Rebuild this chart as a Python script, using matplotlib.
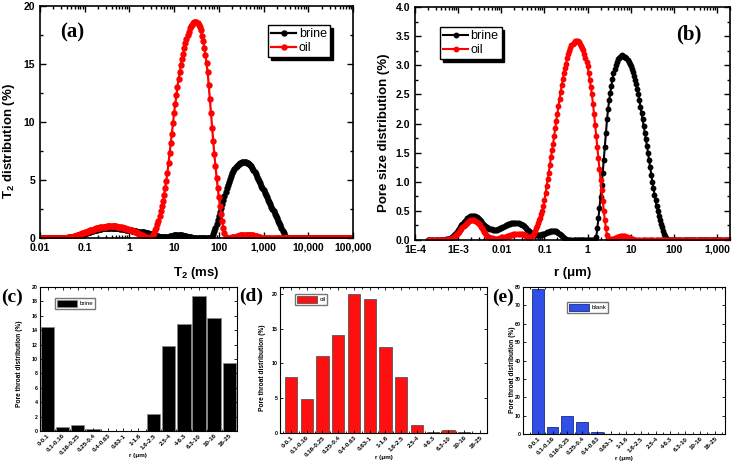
import numpy as np
import matplotlib
matplotlib.use('Agg')
import matplotlib.pyplot as plt
from matplotlib.ticker import LogLocator, MultipleLocator, NullFormatter

plt.rcParams['font.family'] = ['Liberation Sans', 'DejaVu Sans']
plt.rcParams['font.weight'] = 'bold'
plt.rcParams['axes.labelweight'] = 'bold'
plt.rcParams['mathtext.fontset'] = 'custom'
plt.rcParams['mathtext.rm'] = 'Liberation Sans:bold'
plt.rcParams['mathtext.it'] = 'Liberation Sans:bold'
plt.rcParams['mathtext.bf'] = 'Liberation Sans:bold'

# (a) T2 spectra, one value per 0.025 decade from 0.01 ms to 100,000 ms
t2_brine = [
    0, 0, 0, 0, 0, 0, 0, 0, 0, 0,
    0, 0, 0, 0, 0, 0, 0, 0, 0, 0,
    0, 0, 0.01, 0.02, 0.03, 0.04, 0.05, 0.07, 0.08, 0.1,
    0.12, 0.14, 0.17, 0.19, 0.22, 0.25, 0.28, 0.31, 0.34, 0.37,
    0.4, 0.44, 0.47, 0.5, 0.53, 0.56, 0.59, 0.62, 0.65, 0.68,
    0.7, 0.73, 0.75, 0.77, 0.79, 0.81, 0.83, 0.84, 0.85, 0.86,
    0.87, 0.88, 0.88, 0.88, 0.88, 0.88, 0.87, 0.87, 0.86, 0.85,
    0.84, 0.83, 0.82, 0.8, 0.79, 0.77, 0.75, 0.73, 0.71, 0.69,
    0.67, 0.65, 0.63, 0.62, 0.6, 0.58, 0.57, 0.56, 0.55, 0.53,
    0.52, 0.51, 0.5, 0.48, 0.46, 0.44, 0.42, 0.39, 0.35, 0.32,
    0.3, 0.27, 0.25, 0.22, 0.2, 0.17, 0.15, 0.13, 0.11, 0.1,
    0.09, 0.08, 0.08, 0.09, 0.1, 0.12, 0.14, 0.16, 0.18, 0.2,
    0.22, 0.23, 0.24, 0.25, 0.25, 0.25, 0.24, 0.23, 0.21, 0.19,
    0.16, 0.14, 0.11, 0.09, 0.07, 0.05, 0.04, 0.03, 0.02, 0.01,
    0.01, 0, 0, 0, 0, 0, 0, 0, 0, 0,
    0, 0, 0, 0, 0.1, 0.35, 0.6, 0.9, 1.2, 1.55,
    1.9, 2.25, 2.6, 2.95, 3.3, 3.65, 4.0, 4.3, 4.6, 4.85,
    5.1, 5.35, 5.6, 5.78, 5.95, 6.08, 6.2, 6.3, 6.4, 6.45,
    6.5, 6.53, 6.55, 6.56, 6.55, 6.5, 6.45, 6.38, 6.3, 6.18,
    6.05, 5.88, 5.7, 5.5, 5.3, 5.1, 4.9, 4.7, 4.5, 4.3,
    4.1, 3.9, 3.7, 3.5, 3.3, 3.1, 2.9, 2.7, 2.5, 2.3,
    2.1, 1.9, 1.7, 1.5, 1.3, 1.08, 0.85, 0.62, 0.4, 0.2,
    0.05, 0, 0, 0, 0, 0, 0, 0, 0, 0,
    0, 0, 0, 0, 0, 0, 0, 0, 0, 0,
    0, 0, 0, 0, 0, 0, 0, 0, 0, 0,
    0, 0, 0, 0, 0, 0, 0, 0, 0, 0,
    0, 0, 0, 0, 0, 0, 0, 0, 0, 0,
    0, 0, 0, 0, 0, 0, 0, 0, 0, 0,
    0,
]
t2_oil = [
    0, 0, 0, 0, 0, 0, 0, 0, 0, 0,
    0, 0, 0, 0, 0, 0, 0, 0, 0, 0,
    0, 0.01, 0.02, 0.03, 0.04, 0.06, 0.07, 0.09, 0.1, 0.12,
    0.15, 0.17, 0.2, 0.23, 0.26, 0.3, 0.33, 0.37, 0.4, 0.44,
    0.48, 0.52, 0.56, 0.59, 0.63, 0.66, 0.7, 0.73, 0.77, 0.8,
    0.83, 0.85, 0.88, 0.9, 0.92, 0.94, 0.96, 0.97, 0.98, 0.99,
    1.0, 1.01, 1.01, 1.02, 1.02, 1.02, 1.01, 1.01, 1.0, 0.99,
    0.98, 0.96, 0.95, 0.93, 0.9, 0.88, 0.85, 0.82, 0.79, 0.76,
    0.72, 0.68, 0.65, 0.61, 0.57, 0.53, 0.49, 0.44, 0.4, 0.35,
    0.3, 0.25, 0.2, 0.15, 0.1, 0.06, 0.02, 0.01, 0.02, 0.06,
    0.15, 0.28, 0.45, 0.66, 0.9, 1.18, 1.5, 1.88, 2.3, 2.74,
    3.2, 3.72, 4.3, 4.93, 5.6, 6.45, 7.3, 8.15, 9.0, 9.9,
    10.8, 11.55, 12.3, 13.0, 13.7, 14.3, 14.9, 15.4, 15.9, 16.35,
    16.8, 17.15, 17.5, 17.8, 18.1, 18.25, 18.4, 18.5, 18.6, 18.62,
    18.6, 18.5, 18.4, 18.15, 17.9, 17.45, 17.0, 16.4, 15.8, 15.05,
    14.3, 13.15, 12.0, 10.75, 9.5, 8.35, 7.2, 6.2, 5.2, 4.35,
    3.5, 2.8, 2.1, 1.5, 0.9, 0.45, 0.1, 0, 0, 0.01,
    0.02, 0.03, 0.05, 0.07, 0.1, 0.12, 0.15, 0.18, 0.2, 0.23,
    0.25, 0.27, 0.28, 0.29, 0.3, 0.3, 0.3, 0.29, 0.28, 0.26,
    0.24, 0.22, 0.2, 0.17, 0.14, 0.11, 0.08, 0.06, 0.04, 0.03,
    0.02, 0.01, 0, 0, 0, 0, 0, 0, 0, 0,
    0, 0, 0, 0, 0, 0, 0, 0, 0, 0,
    0, 0, 0, 0, 0, 0, 0, 0, 0, 0,
    0, 0, 0, 0, 0, 0, 0, 0, 0, 0,
    0, 0, 0, 0, 0, 0, 0, 0, 0, 0,
    0, 0, 0, 0, 0, 0, 0, 0, 0, 0,
    0, 0, 0, 0, 0, 0, 0, 0, 0, 0,
    0, 0, 0, 0, 0, 0, 0, 0, 0, 0,
    0,
]
t2_ticks = [0.01, 0.1, 1, 10, 100, 1000, 10000, 100000]
t2_labels = ['0.01', '0.1', '1', '10', '100', '1,000', '10,000', '100,000']

# (b) pore size distribution, one value per 0.025 decade from 2E-4 um to 2,000 um
r_brine = [
    0, 0, 0, 0, 0, 0, 0, 0, 0, 0,
    0, 0, 0, 0, 0, 0, 0.005, 0.01, 0.015, 0.02,
    0.03, 0.04, 0.05, 0.065, 0.08, 0.1, 0.12, 0.145, 0.17, 0.195,
    0.22, 0.25, 0.28, 0.305, 0.33, 0.35, 0.37, 0.385, 0.4, 0.41,
    0.42, 0.42, 0.42, 0.42, 0.41, 0.395, 0.38, 0.36, 0.34, 0.32,
    0.3, 0.28, 0.26, 0.245, 0.23, 0.215, 0.2, 0.195, 0.19, 0.185,
    0.18, 0.18, 0.175, 0.175, 0.18, 0.185, 0.19, 0.2, 0.21, 0.22,
    0.23, 0.24, 0.25, 0.26, 0.27, 0.275, 0.28, 0.285, 0.29, 0.29,
    0.29, 0.29, 0.29, 0.29, 0.285, 0.28, 0.27, 0.26, 0.25, 0.24,
    0.22, 0.2, 0.18, 0.165, 0.15, 0.135, 0.12, 0.11, 0.1, 0.095,
    0.09, 0.09, 0.09, 0.09, 0.09, 0.09, 0.1, 0.105, 0.11, 0.12,
    0.13, 0.14, 0.145, 0.15, 0.155, 0.16, 0.16, 0.16, 0.155, 0.15,
    0.14, 0.125, 0.11, 0.09, 0.07, 0.05, 0.03, 0.02, 0.01, 0.005,
    0, 0, 0, 0, 0, 0, 0, 0, 0, 0,
    0, 0, 0, 0, 0, 0, 0, 0, 0, 0,
    0, 0, 0, 0, 0, 0, 0.05, 0.2, 0.37, 0.55,
    0.74, 0.94, 1.15, 1.38, 1.6, 1.84, 2.07, 2.25, 2.4, 2.53,
    2.65, 2.76, 2.86, 2.93, 3.0, 3.05, 3.1, 3.13, 3.15, 3.16,
    3.17, 3.16, 3.15, 3.14, 3.12, 3.09, 3.06, 3.02, 2.98, 2.93,
    2.88, 2.82, 2.75, 2.68, 2.6, 2.5, 2.4, 2.29, 2.18, 2.07,
    1.95, 1.84, 1.73, 1.62, 1.5, 1.37, 1.25, 1.12, 1.0, 0.89,
    0.78, 0.68, 0.58, 0.5, 0.42, 0.35, 0.28, 0.22, 0.16, 0.11,
    0.07, 0.04, 0.01, 0, 0, 0, 0, 0, 0, 0,
    0, 0, 0, 0, 0, 0, 0, 0, 0, 0,
    0, 0, 0, 0, 0, 0, 0, 0, 0, 0,
    0, 0, 0, 0, 0, 0, 0, 0, 0, 0,
    0, 0, 0, 0, 0, 0, 0, 0, 0, 0,
    0, 0, 0, 0, 0, 0, 0, 0, 0, 0,
    0,
]
r_oil = [
    0, 0, 0, 0, 0, 0, 0, 0, 0, 0,
    0, 0, 0, 0, 0, 0, 0, 0, 0.005, 0.01,
    0.01, 0.02, 0.03, 0.04, 0.05, 0.065, 0.08, 0.1, 0.12, 0.145,
    0.17, 0.195, 0.22, 0.24, 0.26, 0.28, 0.3, 0.315, 0.33, 0.335,
    0.34, 0.34, 0.34, 0.34, 0.33, 0.315, 0.3, 0.275, 0.25, 0.225,
    0.2, 0.17, 0.14, 0.115, 0.09, 0.075, 0.06, 0.05, 0.04, 0.035,
    0.03, 0.025, 0.02, 0.02, 0.02, 0.025, 0.03, 0.035, 0.04, 0.045,
    0.05, 0.055, 0.06, 0.065, 0.07, 0.075, 0.08, 0.085, 0.09, 0.095,
    0.1, 0.1, 0.105, 0.105, 0.11, 0.11, 0.11, 0.105, 0.1, 0.09,
    0.08, 0.07, 0.06, 0.055, 0.05, 0.055, 0.07, 0.09, 0.12, 0.16,
    0.2, 0.245, 0.29, 0.335, 0.38, 0.44, 0.5, 0.58, 0.68, 0.8,
    0.92, 1.04, 1.15, 1.29, 1.42, 1.54, 1.65, 1.79, 1.92, 2.05,
    2.17, 2.3, 2.42, 2.54, 2.66, 2.76, 2.86, 2.95, 3.03, 3.12,
    3.2, 3.25, 3.3, 3.34, 3.37, 3.39, 3.41, 3.42, 3.42, 3.42,
    3.4, 3.37, 3.33, 3.3, 3.26, 3.19, 3.12, 3.05, 2.98, 2.87,
    2.75, 2.63, 2.5, 2.33, 2.16, 1.97, 1.78, 1.59, 1.4, 1.22,
    1.03, 0.85, 0.67, 0.5, 0.34, 0.2, 0.08, 0.03, 0, 0,
    0.01, 0.01, 0.02, 0.03, 0.04, 0.05, 0.05, 0.06, 0.07, 0.07,
    0.07, 0.07, 0.07, 0.07, 0.06, 0.05, 0.04, 0.03, 0.02, 0.01,
    0.01, 0, 0, 0, 0, 0, 0, 0, 0, 0,
    0, 0, 0, 0, 0, 0, 0, 0, 0, 0,
    0, 0, 0, 0, 0, 0, 0, 0, 0, 0,
    0, 0, 0, 0, 0, 0, 0, 0, 0, 0,
    0, 0, 0, 0, 0, 0, 0, 0, 0, 0,
    0, 0, 0, 0, 0, 0, 0, 0, 0, 0,
    0, 0, 0, 0, 0, 0, 0, 0, 0, 0,
    0, 0, 0, 0, 0, 0, 0, 0, 0, 0,
    0, 0, 0, 0, 0, 0, 0, 0, 0, 0,
    0,
]
r_ticks = [1e-4, 1e-3, 0.01, 0.1, 1, 10, 100, 1000]
r_labels = ['1E-4', '1E-3', '0.01', '0.1', '1', '10', '100', '1,000']

# (c)-(e) pore throat distribution per radius bin
pore_bins = ['0-0.1', '0.1-0.16', '0.16-0.25', '0.25-0.4', '0.4-0.63', '0.63-1',
             '1-1.6', '1.6-2.5', '2.5-4', '4-6.3', '6.3-10', '10-16', '16-25']
brine_bars = [14.4, 0.5, 0.9, 0.3, 0, 0, 0, 2.4, 11.8, 14.8, 18.7, 15.7, 9.4]
oil_bars = [8.0, 4.9, 11.1, 14.1, 20.0, 19.3, 12.3, 8.1, 1.2, 0.1, 0.45, 0.1, 0]
blank_bars = [78.8, 3.6, 10.0, 6.7, 0.9, 0, 0, 0, 0, 0, 0, 0, 0]

assert len(t2_brine) == len(t2_oil) == 281
assert len(r_brine) == len(r_oil) == 281
t2_ms = np.logspace(-2, 5, len(t2_brine))
r_um = np.logspace(-3.7, 3.3, len(r_brine))

fig = plt.figure(figsize=(7.32, 4.62), dpi=100)


def style_curve_axes(ax):
    ax.tick_params(which='both', direction='in', top=True, right=True, width=1)
    ax.tick_params(which='major', length=4, labelsize=7.5)
    ax.tick_params(which='minor', length=2)
    for s in ax.spines.values():
        s.set_linewidth(1.2)


def curve_legend(ax, loc, anchor):
    ax.legend(loc=loc, bbox_to_anchor=anchor, prop={'size': 9, 'weight': 'normal'},
              fancybox=False, edgecolor='black', framealpha=1,
              shadow={'color': 'black', 'alpha': 1}, borderpad=0.25,
              handlelength=2.0, handletextpad=0.2, labelspacing=0.15, borderaxespad=0)


# panel (a)
ax = fig.add_axes([0.0546, 0.4848, 0.4276, 0.5022])
ax.plot(t2_ms, t2_brine, '-o', color='black', ms=4.6, mew=0, lw=1.6, label='brine')
ax.plot(t2_ms, t2_oil, '-o', color='red', ms=4.6, mew=0, lw=1.6, label='oil')
ax.set_xscale('log')
ax.set_xlim(0.01, 1e5)
ax.set_ylim(0, 20)
ax.set_xticks(t2_ticks)
ax.set_xticklabels(t2_labels)
ax.xaxis.set_minor_locator(LogLocator(base=10, subs=np.arange(2, 10), numticks=100))
ax.xaxis.set_minor_formatter(NullFormatter())
ax.yaxis.set_major_locator(MultipleLocator(5))
ax.yaxis.set_minor_locator(MultipleLocator(2.5))
style_curve_axes(ax)
ax.set_xlabel('T$_2$ (ms)', fontsize=9.5)
ax.set_ylabel('T$_2$ distribution (%)', fontsize=9.5)
ax.xaxis.set_label_coords(0.5, -0.116)
ax.yaxis.set_label_coords(-0.073, 0.42)
curve_legend(ax, 'upper right', (0.927, 0.918))
ax.text(0.102, 0.884, '(a)', transform=ax.transAxes, fontsize=15, fontweight='bold',
        family='Liberation Serif', ha='center', va='center')

# panel (b)
ax = fig.add_axes([0.567, 0.4805, 0.4303, 0.5043])
ax.plot(r_um, r_brine, '-o', color='black', ms=4.2, mew=0, lw=1.5, label='brine')
ax.plot(r_um, r_oil, '-o', color='red', ms=4.2, mew=0, lw=1.5, label='oil')
ax.set_xscale('log')
ax.set_xlim(1e-4, 2000)
ax.set_ylim(0, 4)
ax.set_xticks(r_ticks)
ax.set_xticklabels(r_labels)
ax.xaxis.set_minor_locator(LogLocator(base=10, subs=np.arange(2, 10), numticks=100))
ax.xaxis.set_minor_formatter(NullFormatter())
ax.yaxis.set_major_locator(MultipleLocator(0.5))
ax.yaxis.set_minor_locator(MultipleLocator(0.25))
ax.yaxis.set_major_formatter(plt.FormatStrFormatter('%.1f'))
style_curve_axes(ax)
ax.set_xlabel('r (μm)', fontsize=9.5)
ax.set_ylabel('Pore size distribution (%)', fontsize=9.5)
ax.xaxis.set_label_coords(0.5, -0.116)
ax.yaxis.set_label_coords(-0.079, 0.46)
curve_legend(ax, 'upper left', (0.079, 0.914))
ax.text(0.87, 0.88, '(b)', transform=ax.transAxes, fontsize=15, fontweight='bold',
        family='Liberation Serif', ha='center', va='center')


def bar_panel(rect, values, color, edge, width, xlim, ylim, ystep, label,
              leg_anchor, ylab_x, ylab_y):
    ax = fig.add_axes(rect)
    ax.bar(pore_bins, values, width, color=color, edgecolor=edge, linewidth=0.6,
           label=label)
    ax.set_xlim(*xlim)
    ax.set_ylim(*ylim)
    ax.yaxis.set_major_locator(MultipleLocator(ystep))
    ax.xaxis.set_minor_locator(MultipleLocator(0.5))
    ax.tick_params(which='both', direction='in', top=True, right=True, width=0.6)
    ax.tick_params(which='major', length=2.5)
    ax.tick_params(which='minor', length=1.5)
    ax.tick_params(axis='y', labelsize=3.8, pad=1.5)
    ax.tick_params(axis='x', labelsize=4.5, pad=1.5)
    for t in ax.get_xticklabels():
        t.set_rotation(45)
        t.set_ha('right')
        t.set_rotation_mode('anchor')
    for s in ax.spines.values():
        s.set_linewidth(0.8)
    ax.set_xlabel('r (μm)', fontsize=4.5)
    ax.set_ylabel('Pore throat distribution (%)', fontsize=4.8)
    ax.xaxis.set_label_coords(0.5, -0.15)
    ax.yaxis.set_label_coords(ylab_x, ylab_y)
    ax.legend(loc='upper left', bbox_to_anchor=leg_anchor,
              prop={'size': 4.5, 'weight': 'normal'}, fancybox=False,
              edgecolor='#777777', framealpha=1, borderpad=0.3, borderaxespad=0,
              handlelength=3.2, handleheight=1.3, handletextpad=0.4)
    return ax


bar_panel([0.0546, 0.0671, 0.269, 0.3117], brine_bars, 'black', '#888888', 0.88,
          (-0.5, 12.5), (0, 20), 2, 'brine', (0.076, 0.924), -0.086, 0.47)
bar_panel([0.3825, 0.0628, 0.2828, 0.316], oil_bars, '#ff1010', '#555555', 0.78,
          (-0.7, 12.45), (0, 21), 5, 'oil', (0.072, 0.952), -0.068, 0.45)
bar_panel([0.7145, 0.0606, 0.276, 0.318], blank_bars, '#2f4fe6', '#1a2a80', 0.8,
          (-1.0, 12.7), (0, 80), 10, 'blank', (0.218, 0.898), -0.035, 0.435)

# panel letters for the lower row, placed left of each frame
for x, y, s in [(12, 297, '(c)'), (251, 296, '(d)'), (503, 297, '(e)')]:
    fig.text(x / 732, 1 - y / 462, s, fontsize=14, fontweight='bold',
             family='Liberation Serif', ha='center', va='center')

fig.savefig('out.png', dpi=100)
